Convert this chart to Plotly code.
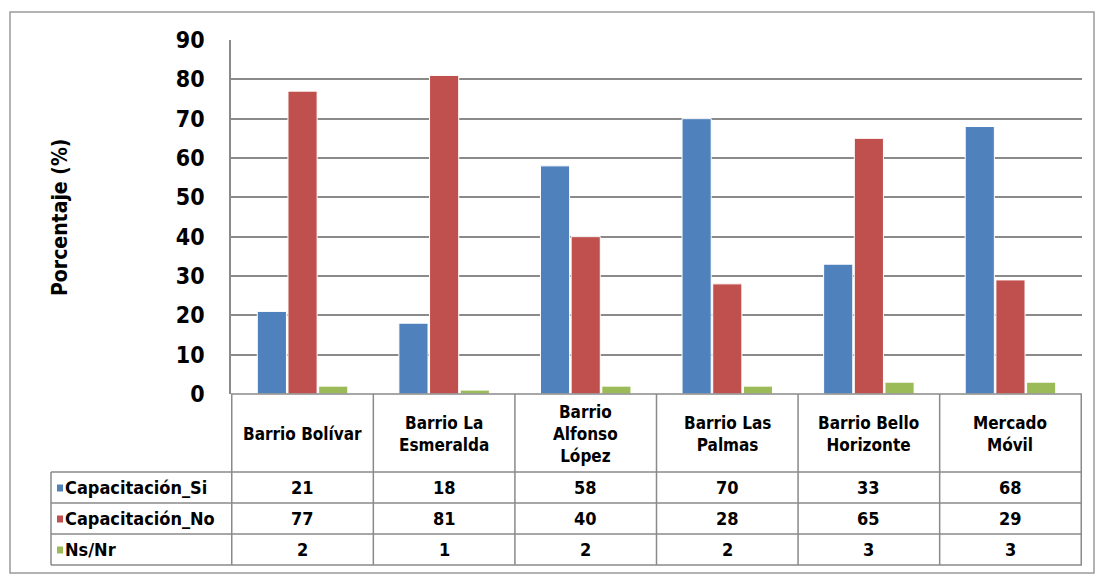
import plotly.graph_objects as go

# Survey results: training received (%) per neighbourhood
categories = ["Barrio Bolívar", "Barrio La Esmeralda", "Barrio Alfonso López",
              "Barrio Las Palmas", "Barrio Bello Horizonte", "Mercado Móvil"]
category_labels = ["Barrio Bolívar", "Barrio La<br>Esmeralda", "Barrio<br>Alfonso<br>López",
                   "Barrio Las<br>Palmas", "Barrio Bello<br>Horizonte", "Mercado<br>Móvil"]
series_names = ["Capacitación_Si", "Capacitación_No", "Ns/Nr"]
capacitacion_si = [21, 18, 58, 70, 33, 68]
capacitacion_no = [77, 81, 40, 28, 65, 29]
ns_nr = [2, 1, 2, 2, 3, 3]
y_ticks = [0, 10, 20, 30, 40, 50, 60, 70, 80, 90]

W, H = 1096, 574
FONT = "DejaVu Sans Condensed, Liberation Sans, Arial"
colors = ["#4F81BD", "#C0504D", "#9BBB59"]
grid_col = "#8A8A8A"


def px(x):
    return x / W


def py(y):
    return 1 - y / H


fig = go.Figure()
for name, vals, col in zip(series_names, [capacitacion_si, capacitacion_no, ns_nr], colors):
    fig.add_trace(go.Bar(x=categories, y=vals, name=name,
                         marker=dict(color=col, line=dict(color="white", width=1))))

# plot area in pixel terms
left, right, top, bottom = 231, 1082, 40, 394
table_right = 1082
legend_left = 51
row_lines = [472, 503, 534, 565]

fig.update_layout(
    width=W, height=H, margin=dict(l=0, r=0, t=0, b=0, autoexpand=False),
    paper_bgcolor="white", plot_bgcolor="white",
    barmode="group", bargap=0.35, bargroupgap=0.05,
    showlegend=False,
    font=dict(family=FONT, color="black"),
    xaxis=dict(domain=[px(left), px(right)], showticklabels=False, showgrid=False,
               zeroline=False, showline=False, ticks="", automargin=False),
    yaxis=dict(domain=[py(bottom), py(top)], range=[0, 90], tickvals=y_ticks,
               showgrid=True, gridcolor=grid_col, gridwidth=1.5, zeroline=False,
               showline=True, linecolor=grid_col, linewidth=1.5, automargin=False,
               ticks="", ticklabelstandoff=20,
               tickfont=dict(family=FONT, size=23, color="black", weight="bold")),
)

shapes = []
# outer chart border
shapes.append(dict(type="rect", xref="paper", yref="paper", x0=px(10), x1=px(1094),
                   y0=py(573), y1=py(12), line=dict(color="#9A9A9A", width=1.5)))
# table: header row top and row separators
shapes.append(dict(type="line", xref="paper", yref="paper", x0=px(left), x1=px(table_right),
                   y0=py(bottom), y1=py(bottom), line=dict(color=grid_col, width=1.5)))
for ry in row_lines:
    shapes.append(dict(type="line", xref="paper", yref="paper", x0=px(legend_left), x1=px(table_right),
                       y0=py(ry), y1=py(ry), line=dict(color=grid_col, width=1.5)))
# legend column left border
shapes.append(dict(type="line", xref="paper", yref="paper", x0=px(legend_left), x1=px(legend_left),
                   y0=py(row_lines[0]), y1=py(row_lines[-1]), line=dict(color=grid_col, width=1.5)))
# column separators at category boundaries
for i in range(len(categories) + 1):
    shapes.append(dict(type="line", xref="x", yref="paper", x0=i - 0.5, x1=i - 0.5,
                       y0=py(bottom), y1=py(row_lines[-1]), line=dict(color=grid_col, width=1.5)))

annotations = []
# y-axis title
annotations.append(dict(text="Porcentaje (%)", xref="paper", yref="paper", x=px(60), y=py(218),
                        xanchor="center", yanchor="middle", textangle=-90, showarrow=False,
                        font=dict(family=FONT, size=21, color="black", weight="bold")))
# category headers
for cat, lab in zip(categories, category_labels):
    annotations.append(dict(text=lab, xref="x", yref="paper", x=cat, y=py(434),
                            xanchor="center", yanchor="middle",
                            showarrow=False, align="center",
                            font=dict(family=FONT, size=17, color="black", weight="bold")))
# data rows
for r, (name, vals, col) in enumerate(zip(series_names, [capacitacion_si, capacitacion_no, ns_nr], colors)):
    yc = (row_lines[r] + row_lines[r + 1]) / 2
    shapes.append(dict(type="rect", xref="paper", yref="paper", x0=px(57), x1=px(63),
                       y0=py(yc + 4), y1=py(yc - 3), fillcolor=col, line=dict(width=0)))
    annotations.append(dict(text=name, xref="paper", yref="paper", x=px(63), y=py(yc),
                            xanchor="left", yanchor="middle", showarrow=False,
                            font=dict(family=FONT, size=18, color="black", weight="bold")))
    for cat, v in zip(categories, vals):
        annotations.append(dict(text=str(v), xref="x", yref="paper", x=cat, y=py(yc),
                                xanchor="center", yanchor="middle", showarrow=False,
                                font=dict(family=FONT, size=18, color="black", weight="bold")))

fig.update_layout(shapes=shapes, annotations=annotations)
fig.write_html("out.html")
